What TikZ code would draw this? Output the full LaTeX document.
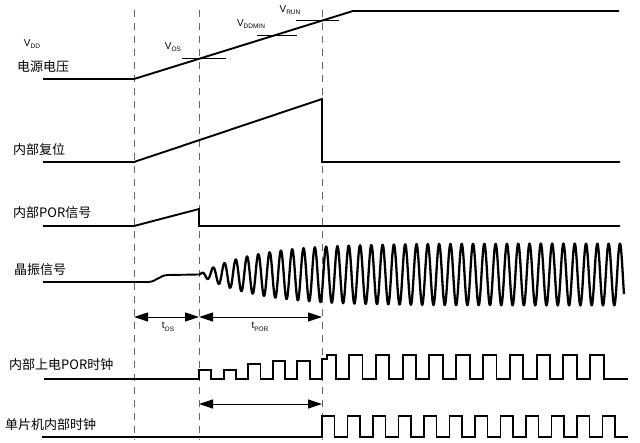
\documentclass[tikz,border=0pt]{standalone}
\usepackage{fontspec}
\setmainfont{Liberation Sans}
\newfontfamily\cjk{Noto Sans CJK SC}
\usetikzlibrary{arrows.meta}
\newcommand{\VL}[2]{{\fontsize{10}{10}\selectfont #1}\raisebox{-2.5pt}{\fontsize{6.5}{6.5}\selectfont #2}}
\begin{document}
\begin{tikzpicture}[x=1pt,y=-1pt,
  sigline/.style={line width=1.9pt, line join=miter},
  guide/.style={line width=0.8pt, gray!80!black, dash pattern=on 7pt off 6pt},
  tickline/.style={line width=0.8pt},
  dim/.style={line width=0.8pt, {Triangle[length=14pt,width=9pt]}-{Triangle[length=14pt,width=9pt]}},
  lab/.style={font=\cjk\fontsize{13}{13}\selectfont, anchor=west, inner sep=0pt},
  vlab/.style={inner sep=0pt}]
\useasboundingbox (0,0) rectangle (640,442);
\fill[white] (0,0) rectangle (640,442);

% guide coordinates
\coordinate (g1t) at (134,10); \coordinate (g1b) at (134,440);
\coordinate (g2t) at (199,10); \coordinate (g2b) at (199,440);
\coordinate (g3t) at (322,10); \coordinate (g3b) at (322,440);
\draw[guide] (g1t) -- (g1b);
\draw[guide] (g2t) -- (g2b);
\draw[guide] (g3t) -- (g3b);

% labels
\node[lab] (l1) at (17,67) {电源电压};
\node[lab] (l2) at (13,150) {内部复位};
\node[lab] (l3) at (13,213) {内部POR信号};
\node[lab] (l4) at (14,270) {晶振信号};
\node[lab] (l5) at (9,365) {内部上电POR时钟};
\node[lab] (l6) at (5,425) {单片机内部时钟};

\node[vlab] (vdd) at (32,44) {\VL{V}{DD}};
\node[vlab] (vos) at (173,47) {\VL{V}{OS}};
\node[vlab] (vmin) at (251,24) {\VL{V}{DDMIN}};
\node[vlab] (vrun) at (290,10) {\VL{V}{RUN}};

% VDD supply
\draw[sigline] (43,79) -- (134,79) -- (353,11) -- (619,11);
\draw[tickline] (182,58) -- (226,58);
\draw[tickline] (257,35) -- (297,35);
\draw[tickline] (296,20) -- (339,20);

% internal reset
\draw[sigline] (43,162) -- (134,162) -- (322,99) -- (322,162) -- (620,162);

% internal POR signal
\draw[sigline] (43,226) -- (134,226) -- (199,209) -- (199,226) -- (620,226);

% oscillator
\draw[sigline] (43,282) -- (148,282) .. controls (156,282) and (160,275) .. (168,275) -- (199,274.5);
\draw[sigline, line width=2.3pt, line join=round] plot[domain=199:624, samples=900]
  (\x, {274.5 - 31*(1-exp(-(\x-199)/55))*sin((\x-199)*31.858)});

% time arrows
\coordinate (a1) at (134,317); \coordinate (a2) at (199,317); \coordinate (a3) at (322,317);
\draw[dim] (a1) -- (a2);
\draw[dim] (a2) -- (a3);
\node[vlab] (tos) at (168,327) {\VL{t}{OS}};
\node[vlab] (tpor) at (260,327) {\VL{t}{POR}};

% internal power-on POR clock
\draw[sigline] (44,379) -- (199,379) -- (199,370) -- (211,370) -- (211,379)
  -- (223.6,379) -- (223.6,370) -- (236,370) -- (236,379)
  -- (248.2,379) -- (248.2,364) -- (260.5,364) -- (260.5,379)
  -- (272.8,379) -- (272.8,361) -- (285,361) -- (285,379)
  -- (297.4,379) -- (297.4,361) -- (309.7,361) -- (309.7,379)
  -- (322,379) -- (322,359) -- (327,359) -- (327,355) -- (336,355) -- (336,379)
  foreach \k in {0,...,9} { -- ({349+26.8*\k},379) -- ({349+26.8*\k},355) -- ({362.5+26.8*\k},355) -- ({362.5+26.8*\k},379) }
  -- (628,379);

% POR duration arrow
\coordinate (b1) at (199,404); \coordinate (b2) at (322,404);
\draw[dim] (b1) -- (b2);

% MCU internal clock
\draw[sigline] (42,437) -- (322,437)
  foreach \k in {0,...,11} { -- ({322+25.5*\k},437) -- ({322+25.5*\k},416) -- ({334.5+25.5*\k},416) -- ({334.5+25.5*\k},437) }
  -- (628,437);
\end{tikzpicture}
\end{document}
